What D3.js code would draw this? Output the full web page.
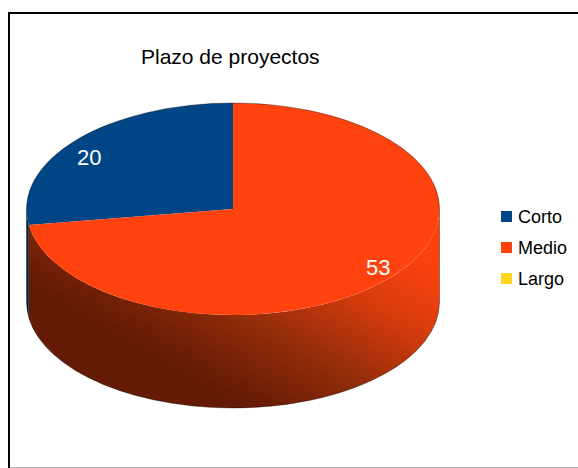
<!DOCTYPE html>
<html><head><meta charset="utf-8">
<script src="https://cdn.jsdelivr.net/npm/d3@7"></script>
<style>html,body{margin:0;padding:0;background:#fff}svg{display:block}</style></head>
<body><svg id="c" width="578" height="468"></svg>
<script>
const categories = ["Corto", "Medio", "Largo"];
const seriesValues = [20, 53, 0];
const colors = ["#004586", "#ff420e", "#ffd320"];
const wallDark = ["#002343", "#651a05", "#806a10"];
const title = "Plazo de proyectos";

const cx = 233, cy = 209, rx = 206.5, ry = 106, depth = 93;
const zs = depth * rx / ry;
const svg = d3.select("#c");

svg.append("rect").attr("x",9).attr("y",13).attr("width",600).attr("height",480)
  .attr("fill","#fff").attr("stroke","#000").attr("stroke-width",2);
svg.append("line").attr("x1",10).attr("x2",578).attr("y1",467.5).attr("y2",467.5).attr("stroke","#b3b3b3");

const defs = svg.append("defs");
const nx = 0.5, ny = -0.866;
const p0 = -285, p1 = -15, ref = [233, 318], refP = -170;
const gp = p => [ref[0]+nx*(p-refP), ref[1]+ny*(p-refP)];
const [gx1,gy1] = gp(p0), [gx2,gy2] = gp(p1);
const g0 = defs.append("linearGradient").attr("id","wallS").attr("gradientUnits","userSpaceOnUse")
  .attr("gradientTransform",`scale(1,${rx/ry}) translate(${-cx},${-cy})`)
  .attr("x1",gx1).attr("y1",gy1).attr("x2",gx2).attr("y2",gy2);
[[-285,"#651a05"],[-238,"#651a05"],[-170,"#8d2b0a"],[-85,"#d83c0d"],[-45,"#f0400e"],[-15,"#fb420e"]]
  .forEach(s=>g0.append("stop").attr("offset",(s[0]-p0)/(p1-p0)).attr("stop-color",s[1]));

const pie = d3.pie().sort(null).startAngle(0).endAngle(-2*Math.PI);
const arcs = pie(seriesValues);
const root = svg.append("g").attr("transform",`translate(${cx},${cy}) scale(1,${ry/rx})`);

arcs.forEach((a,i)=>{
  const lo = Math.min(a.startAngle,a.endAngle), hi = Math.max(a.startAngle,a.endAngle);
  const s = Math.max(lo,-1.5*Math.PI), e = Math.min(hi,-0.5*Math.PI);
  if (e<=s) return;
  const p = d3.path();
  const c0 = s-Math.PI/2, c1 = e-Math.PI/2;
  p.arc(0,0,rx,c0,c1,false);
  p.arc(0,zs,rx,c1,c0,true);
  p.closePath();
  root.append("path").attr("d",p.toString())
    .attr("fill", i===1 ? "url(#wallS)" : wallDark[i]);
});

const arc = d3.arc().innerRadius(0).outerRadius(rx);
root.selectAll("path.top").data(arcs.filter(a=>a.value>0)).join("path").attr("class","top")
  .attr("d",arc).attr("fill",d=>colors[d.index]);

const sil = d3.path();
sil.arc(0,0,rx,Math.PI,2*Math.PI,false);
sil.arc(0,zs,rx,0,Math.PI,false);
sil.closePath();
root.append("path").attr("d",sil.toString()).attr("fill","none")
  .attr("stroke","#000").attr("stroke-opacity",0.45).attr("stroke-width",0.8)
  .attr("vector-effect","non-scaling-stroke");

const font = "'Liberation Sans',Arial,sans-serif";
svg.append("text").attr("x",141).attr("y",64).attr("font-family",font).attr("font-size",21).attr("fill","#000").text(title);

const labelPos = [[77,165],[366,275]];
seriesValues.forEach((v,i)=>{ if(v>0) svg.append("text").attr("x",labelPos[i][0]).attr("y",labelPos[i][1])
  .attr("font-family",font).attr("font-size",22).attr("fill","#fff").text(v); });

const ly = d3.scalePoint().domain(categories).range([216.5,278.5]);
categories.forEach((c,i)=>{
  svg.append("rect").attr("x",501).attr("y",ly(c)-5.5).attr("width",11).attr("height",11).attr("fill",colors[i]);
  svg.append("text").attr("x",518).attr("y",ly(c)+6.5).attr("font-family",font).attr("font-size",18).attr("fill","#000").text(c);
});
</script></body></html>
